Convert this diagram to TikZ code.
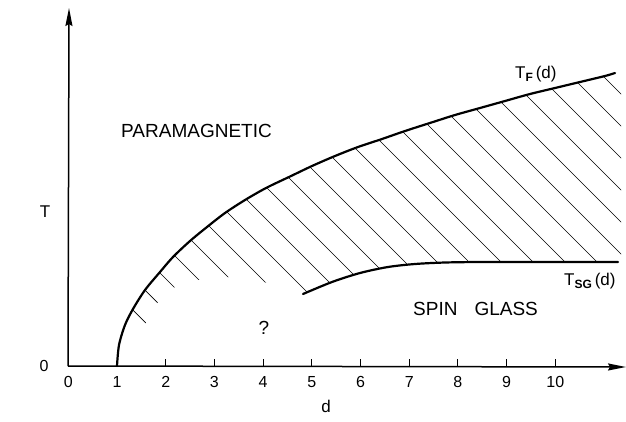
\documentclass[tikz,border=0pt]{standalone}
\usepackage{fontspec}
\setmainfont{Liberation Sans}
\usetikzlibrary{arrows.meta}
\begin{document}
\begin{tikzpicture}[x=1pt,y=-1pt,
  curve/.style={line width=2.2pt, line cap=round},
  axis/.style={line width=1.5pt},
  hatch/.style={line width=0.7pt},
  tickmark/.style={line width=1.1pt},
  num/.style={font=\fontsize{16}{19}\selectfont, anchor=base, inner sep=0pt},
  big/.style={font=\fontsize{19}{22}\selectfont, anchor=base west, inner sep=0pt},
  mid/.style={font=\fontsize{17}{20}\selectfont, anchor=base, inner sep=0pt},
  tip/.style={-{Stealth[length=18pt,width=7pt,inset=2pt]}}]

\useasboundingbox[fill=white] (0,0) rectangle (626,421);

% axes
\coordinate (O) at (68,366);
\coordinate (Ytop) at (69,8);
\coordinate (Xend) at (626,367);
\draw[axis,tip] (O) -- (Ytop);
\draw[axis,tip] (O) -- (Xend);

% ticks and labels
\foreach \k in {0,...,10} {
  \coordinate (t\k) at ({68.3+48.7*\k},366);
  \node[num] (n\k) at ({68.3+48.7*\k},387.5) {\k};
}
\foreach \k in {2,...,10} \draw[tickmark] (t\k) -- ++(0,-7);

\node[num] (zero) at (44,371) {0};
\node[mid] (Tlab) at (45,217) {T};
\node[mid] (dlab) at (326,412) {d};

% hatching
\begin{scope}
\clip plot[smooth] coordinates {(117,366) (119,345) (125,325) (133,309) (145,290) (160,272) (173,257) (190,241) (207,227) (225,213) (245,200) (266,188) (290,176.5) (312,166) (335,156) (358,147) (382,139) (405,131) (433,122) (455,115) (480,108) (505,101) (530,94) (555,88) (580,82) (605,76) (615,73)}
  -- (621,70) -- (621,262) -- (618,262)
  -- plot[smooth] coordinates {(618,262) (570,262) (520,262) (480,262) (445,262.5) (415,264) (388,267) (360,273) (332,282) (303,294)}
  -- (264,282) -- (227,277) -- (198,280) -- (175,287) -- (158,302) -- (146,323) -- (127,323) -- cycle;
\foreach \k in {0,...,22} \draw[hatch] (0,{177-32*\k}) -- ++(700,700);
\end{scope}

% phase boundaries
\draw[curve] plot[smooth] coordinates {(117,366) (119,345) (125,325) (133,309) (145,290) (160,272) (173,257) (190,241) (207,227) (225,213) (245,200) (266,188) (290,176.5) (312,166) (335,156) (358,147) (382,139) (405,131) (433,122) (455,115) (480,108) (505,101) (530,94) (555,88) (580,82) (605,76) (615,73)};
\draw[curve] plot[smooth] coordinates {(303,294) (332,282) (360,273) (388,267) (415,264) (445,262.5) (480,262) (520,262) (570,262) (618,262)};

% labels
\node[font=\fontsize{17}{20}\selectfont, anchor=base west, inner sep=0pt] (TF) at (515,78) {T\raisebox{-3pt}{\fontsize{12}{14}\selectfont\bfseries F}\,(d)};
\node[font=\fontsize{17}{20}\selectfont, anchor=base west, inner sep=0pt] (TSG) at (564,285) {T\raisebox{-3pt}{\fontsize{12}{14}\selectfont\bfseries SG}\,(d)};
\node[big] (para) at (121,137) {PARAMAGNETIC};
\node[big] (sg) at (413,315) {SPIN\hspace{17pt}GLASS};
\node[font=\fontsize{19}{22}\selectfont, anchor=base, inner sep=0pt] (q) at (264,334) {?};
\end{tikzpicture}
\end{document}
